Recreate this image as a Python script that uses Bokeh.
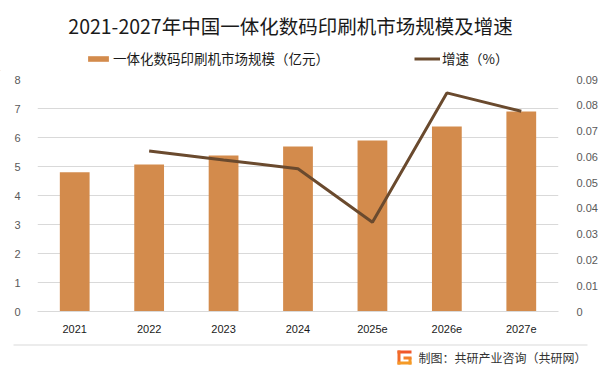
from bokeh.plotting import figure
from bokeh.layouts import column, row
from bokeh.models import (Range1d, LinearAxis, FixedTicker, Legend, LegendItem)
from bokeh.core.properties import value
from bokeh.embed import file_html
from bokeh.resources import INLINE

years = ["2021", "2022", "2023", "2024", "2025e", "2026e", "2027e"]
market_size = [4.8, 5.07, 5.38, 5.69, 5.9, 6.38, 6.9]
growth_years = ["2022", "2023", "2024", "2025e", "2026e", "2027e"]
growth_rate = [0.0623, 0.0588, 0.0554, 0.0346, 0.0848, 0.0777]
left_ticks = [0, 1, 2, 3, 4, 5, 6, 7, 8]
right_ticks = [0, 0.01, 0.02, 0.03, 0.04, 0.05, 0.06, 0.07, 0.08, 0.09]
right_labels = ["0", "0.01", "0.02", "0.03", "0.04", "0.05", "0.06", "0.07", "0.08", "0.09"]

title_text = "2021-2027年中国一体化数码印刷机市场规模及增速"
bar_name = "一体化数码印刷机市场规模（亿元）"
line_name = "增速（%）"
source_text = "制图：共研产业咨询（共研网）"

CJK = "Noto Sans CJK SC"
BAR_COLOR = "#D38B4C"
LINE_COLOR = "#6A4A2E"

W = 600

def blank(height):
    fig = figure(width=W, height=height, x_range=Range1d(0, W), y_range=Range1d(0, height),
                 x_axis_type=None, y_axis_type=None, title=None,
                 min_border=0, min_border_left=0, min_border_right=0,
                 min_border_top=0, min_border_bottom=0,
                 output_backend="svg", toolbar_location=None,
                 outline_line_color=None, background_fill_color="white",
                 border_fill_color="white")
    fig.grid.visible = False
    return fig

# ---- header: title and legend ----
h = blank(71)
h.text(x=[290], y=[46], text=[title_text], text_align="center", text_baseline="middle",
       text_font=value(CJK), text_font_size="19.5px", text_color="#1a1a1a")
# off-canvas key renderers that give the legend its swatches
key_bar = h.vbar(x=[-1000], top=[1], width=1, fill_color=BAR_COLOR, line_color=None)
key_line = h.line(x=[-1000, -999], y=[1, 1], line_color=LINE_COLOR, line_width=3)
legend = Legend(items=[LegendItem(label=bar_name, renderers=[key_bar]),
                       LegendItem(label=line_name, renderers=[key_line])],
                orientation="horizontal", location=(85, 3), padding=0, margin=0,
                border_line_color=None, background_fill_alpha=0,
                glyph_width=26, glyph_height=7, label_standoff=2, spacing=85,
                label_text_font=CJK, label_text_font_size="13.5px",
                label_text_color="#1a1a1a", label_height=14)
h.add_layout(legend, "center")

# ---- main chart ----
p = figure(x_range=years, y_range=Range1d(0, 8), width=W, height=272,
           min_border_left=37, min_border_right=42, min_border_top=8, min_border_bottom=32,
           output_backend="svg", toolbar_location=None, background_fill_color="white",
           border_fill_color="white", outline_line_color=None)
p.extra_y_ranges = {"g": Range1d(0, 0.09)}

p.vbar(x=years, top=market_size, width=0.4, fill_color=BAR_COLOR, line_color=None)
p.line(x=growth_years, y=growth_rate, y_range_name="g", line_color=LINE_COLOR, line_width=3)

p.yaxis.ticker = FixedTicker(ticks=left_ticks)
p.yaxis.axis_line_color = None
p.yaxis.major_tick_line_color = None
p.yaxis.minor_tick_line_color = None
p.yaxis.major_label_standoff = 11
p.yaxis.major_label_text_font = "Liberation Sans"
p.yaxis.major_label_text_font_size = "11px"
p.yaxis.major_label_text_color = "#595959"

raxis = LinearAxis(y_range_name="g", ticker=FixedTicker(ticks=right_ticks),
                   major_label_overrides={t: l for t, l in zip(right_ticks, right_labels)})
raxis.axis_line_color = None
raxis.major_tick_line_color = None
raxis.minor_tick_line_color = None
raxis.major_label_standoff = 12
raxis.major_label_text_font = "Liberation Sans"
raxis.major_label_text_font_size = "11px"
raxis.major_label_text_color = "#595959"
p.add_layout(raxis, "right")

p.xaxis.axis_line_color = "#D9D9D9"
p.xaxis.axis_line_width = 1
p.xaxis.major_tick_line_color = None
p.xaxis.minor_tick_line_color = None
p.xaxis.major_label_standoff = 7
p.xaxis.major_label_text_font = "Liberation Sans"
p.xaxis.major_label_text_font_size = "11px"
p.xaxis.major_label_text_color = "#1a1a1a"

p.xgrid.grid_line_color = None
p.ygrid.grid_line_color = "#D9D9D9"
p.ygrid.grid_line_width = 1

# ---- footer: separator line, logo and source note ----
f = blank(33)
f.segment(x0=[13], y0=[31.5], x1=[587], y1=[31.5], line_color="#D9D9D9", line_width=1)
f.quad(left=[397, 397, 397, 408, 403], right=[411, 400, 411, 411, 411],
       bottom=[23, 12, 12, 12, 17], top=[26, 26, 15, 19, 20],
       fill_color=["#F0562A", "#F26B2A", "#F59A26", "#F59A26", "#F3802A"], line_color=None)
f.text(x=[418], y=[19], text=[source_text], text_align="left", text_baseline="middle",
       text_font=value(CJK), text_font_size="12px", text_color="#333333")

layout = column(row(h), row(p), row(f), spacing=0)
open("out.html", "w").write(file_html(layout, INLINE))
